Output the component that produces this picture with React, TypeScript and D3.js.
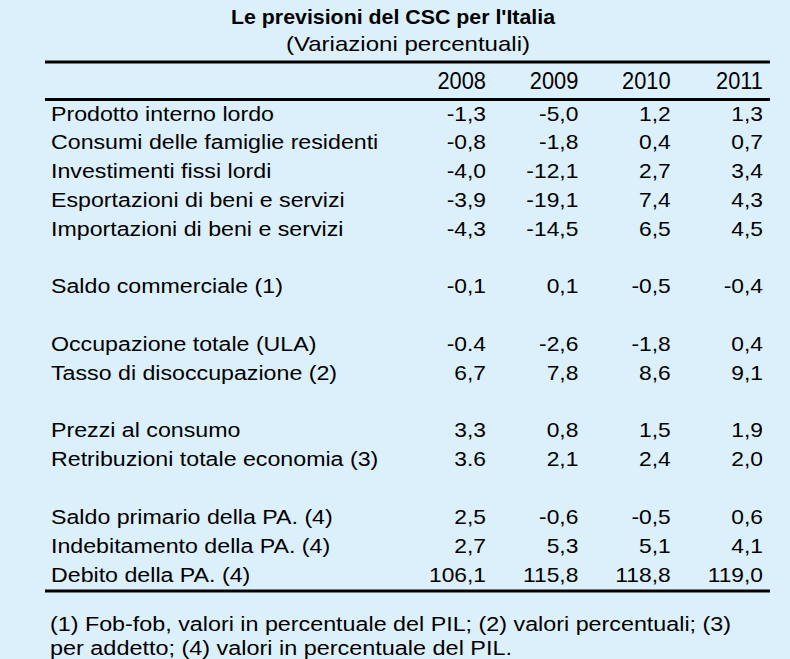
import React from "react";
import * as d3 from "d3";

const title = "Le previsioni del CSC per l'Italia";
const subtitle = "(Variazioni  percentuali)";
const years = ["2008", "2009", "2010", "2011"];

// row labels, null = empty spacer row
const categories = [
  "Prodotto interno lordo",
  "Consumi delle famiglie residenti",
  "Investimenti fissi lordi",
  "Esportazioni di beni e servizi",
  "Importazioni di beni e servizi",
  null,
  "Saldo commerciale (1)",
  null,
  "Occupazione totale (ULA)",
  "Tasso di disoccupazione (2)",
  null,
  "Prezzi al consumo",
  "Retribuzioni totale economia (3)",
  null,
  "Saldo primario della PA. (4)",
  "Indebitamento della PA. (4)",
  "Debito della PA. (4)",
];

const v2008 = ["-1,3", "-0,8", "-4,0", "-3,9", "-4,3", null, "-0,1", null, "-0.4", "6,7", null, "3,3", "3.6", null, "2,5", "2,7", "106,1"];
const v2009 = ["-5,0", "-1,8", "-12,1", "-19,1", "-14,5", null, "0,1", null, "-2,6", "7,8", null, "0,8", "2,1", null, "-0,6", "5,3", "115,8"];
const v2010 = ["1,2", "0,4", "2,7", "7,4", "6,5", null, "-0,5", null, "-1,8", "8,6", null, "1,5", "2,4", null, "-0,5", "5,1", "118,8"];
const v2011 = ["1,3", "0,7", "3,4", "4,3", "4,5", null, "-0,4", null, "0,4", "9,1", null, "1,9", "2,0", null, "0,6", "4,1", "119,0"];

const footnotes = [
  "(1) Fob-fob, valori in percentuale del PIL; (2) valori percentuali; (3)",
  "per addetto; (4) valori in percentuale del PIL.",
];

const W = 790;
const H = 659;
const font = "'Liberation Sans', Arial, sans-serif";

// text squeezed/stretched horizontally like the scanned table
function SText({ x, y, sx, anchor, size, children }: any) {
  return (
    <g transform={`translate(${x},${y}) scale(${sx},1)`}>
      <text textAnchor={anchor} fontSize={size}>
        {children}
      </text>
    </g>
  );
}

export default function App() {
  const series = [v2008, v2009, v2010, v2011];

  const y = d3.scaleLinear().domain([0, categories.length - 1]).range([120.5, 581.5]);
  const x = d3.scalePoint<string>().domain(years).range([486, 763]);

  return (
    <svg width={W} height={H} style={{ position: "absolute", left: 0, top: 0, fontFamily: font }}>
      <rect width={W} height={H} fill="#dcf0fb" />
      <text x={393} y={24} textAnchor="middle" fontSize={20.5} fontWeight="bold" textLength={324} lengthAdjust="spacingAndGlyphs">
        {title}
      </text>
      <text x={408} y={51} textAnchor="middle" fontSize={21} textLength={244} lengthAdjust="spacingAndGlyphs">
        {subtitle}
      </text>
      <line x1={45} x2={770} y1={62} y2={62} stroke="#000" strokeWidth={3} />
      {years.map((yr) => (
        <SText key={yr} x={x(yr)} y={89} sx={0.95} anchor="end" size={23}>
          {yr}
        </SText>
      ))}
      <line x1={45} x2={770} y1={99.5} y2={99.5} stroke="#000" strokeWidth={3} />
      {categories.map((c, i) =>
        c == null ? null : (
          <g key={i}>
            <SText x={51} y={y(i)} sx={1.16} anchor="start" size={20}>
              {c}
            </SText>
            {series.map((s, j) => (
              <SText key={j} x={x(years[j])} y={y(i)} sx={1.14} anchor="end" size={20}>
                {s[i]}
              </SText>
            ))}
          </g>
        )
      )}
      <line x1={45} x2={770} y1={591} y2={591} stroke="#000" strokeWidth={3} />
      <text x={50} y={631} fontSize={20} textLength={681} lengthAdjust="spacingAndGlyphs">
        {footnotes[0]}
      </text>
      <text x={50} y={655} fontSize={20} textLength={462} lengthAdjust="spacingAndGlyphs">
        {footnotes[1]}
      </text>
    </svg>
  );
}
